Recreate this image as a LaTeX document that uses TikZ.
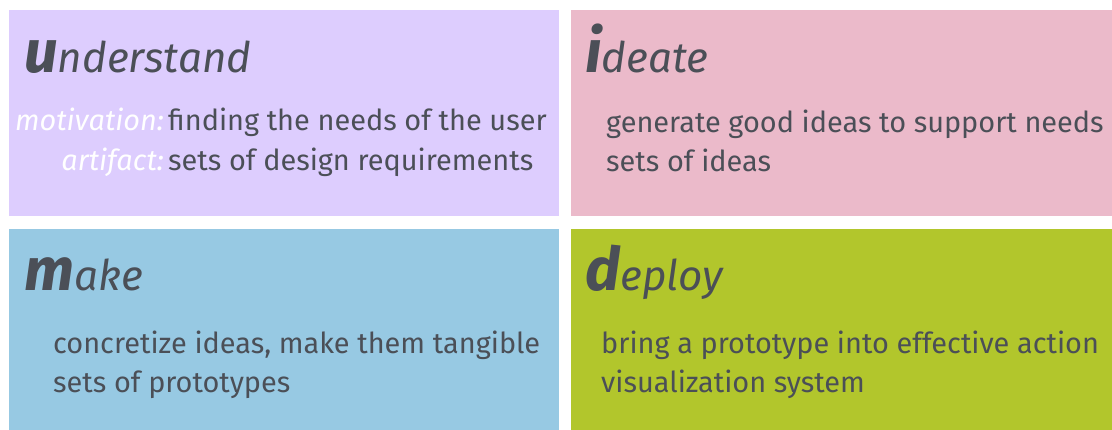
\documentclass[tikz,border=0pt]{standalone}
\usepackage{fontspec}
\setmainfont{Fira Sans}
\usepackage{tikz}

\definecolor{understandbg}{RGB}{221,205,254}
\definecolor{ideatebg}{RGB}{235,186,202}
\definecolor{makebg}{RGB}{151,201,227}
\definecolor{deploybg}{RGB}{178,198,44}
\definecolor{textgray}{RGB}{75,79,87}

\tikzset{
  stage title/.style={anchor=base west, inner sep=0pt, text=textgray},
  stage text/.style={anchor=base west, inner sep=0pt, text=textgray, font=\fontsize{28.9}{34}\selectfont},
  stage label/.style={anchor=base east, inner sep=0pt, text=white, font=\fontsize{28.9}{34}\selectfont\itshape}
}
\newcommand{\stagename}[2]{{\fontsize{60}{60}\selectfont\bfseries\itshape #1}{\fontsize{42.2}{42}\selectfont\itshape #2}}

\begin{document}
\begin{tikzpicture}[x=1pt,y=1pt,yscale=-1,xscale=1]
\useasboundingbox (0,0) rectangle (1112,430);

%Boxes
\fill [understandbg] (9,10) rectangle (559,216) ;
\fill [ideatebg] (571,10) rectangle (1112,216) ;
\fill [makebg] (9,229) rectangle (559,430) ;
\fill [deploybg] (571,229) rectangle (1112,430) ;

% Text Node
\node [stage title] (understand) at (24,73) {\stagename{u}{nderstand}};
% Text Node
\node [stage label] (motivation) at (164,131) {motivation:};
\node [stage text] (needs) at (168,131) {finding the needs of the user};
% Text Node
\node [stage label] (artifact) at (164,171) {artifact:};
\node [stage text] (requirements) at (168,171) {sets of design requirements};

% Text Node
\node [stage title] (ideate) at (585,73) {\stagename{i}{deate}};
% Text Node
\node [stage text] (ideas) at (606,133) {generate good ideas to support needs};
\node [stage text] (ideasets) at (606,172) {sets of ideas};

% Text Node
\node [stage title] (make) at (24,291) {\stagename{m}{ake}};
% Text Node
\node [stage text] (concretize) at (53,354) {concretize ideas, make them tangible};
\node [stage text] (prototypes) at (53,393) {sets of prototypes};

% Text Node
\node [stage title] (deploy) at (585,291) {\stagename{d}{eploy}};
% Text Node
\node [stage text] (bring) at (601,354) {bring a prototype into effective action};
\node [stage text] (system) at (601,393) {visualization system};

\end{tikzpicture}
\end{document}
